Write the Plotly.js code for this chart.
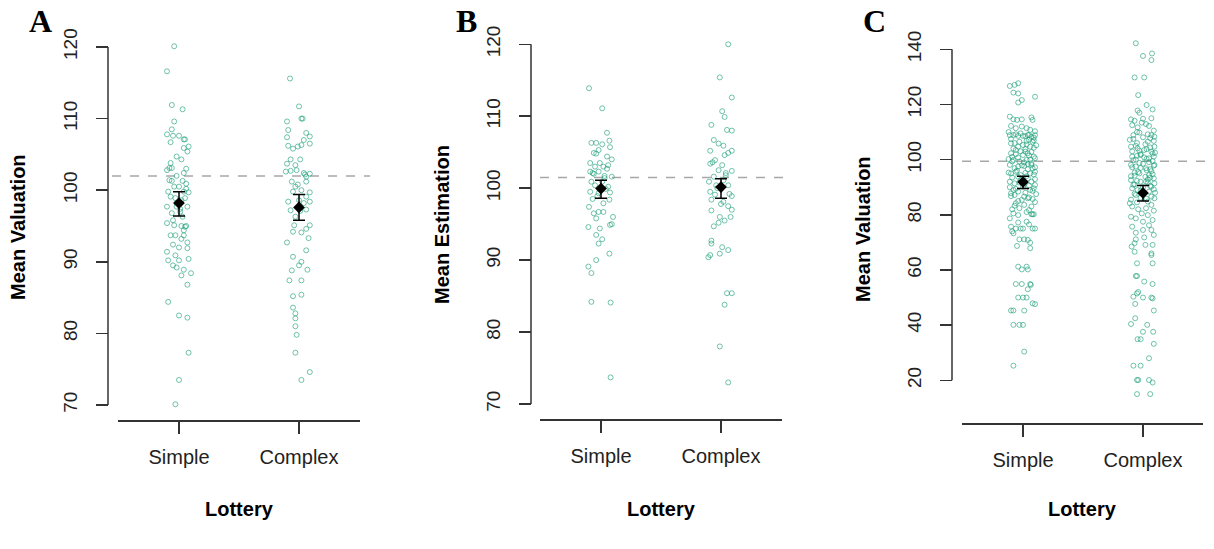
<!DOCTYPE html>
<html>
<head>
<meta charset="utf-8">
<script src="https://cdn.plot.ly/plotly-3.0.1.min.js"></script>
<style>html,body{margin:0;padding:0;background:#fff;}#chart{width:1214px;height:549px;}</style>
</head>
<body>
<div id="chart"></div>
<script>
// ---------------- DATA ----------------
const categories = ['Simple', 'Complex'];
const panelLetters = ['A', 'B', 'C'];
const yTitles = ['Mean Valuation', 'Mean Estimation', 'Mean Valuation'];
const xTitle = 'Lottery';

// Panel A – individual means (values) and horizontal jitter offsets
const aSimpleVal = [120.1,116.6,111.9,111.3,109.6,108.5,107.8,106.7,107.6,107.6,107.1,107.1,105.9,106.1,105.4,104.7,104.3,103.8,103.1,103.1,102.8,103.0,102.4,101.4,101.3,101.3,100.9,100.5,100.5,99.8,99.8,99.7,99.1,98.9,98.6,97.7,97.7,97.7,97.0,96.3,95.8,95.4,95.1,95.0,95.0,94.4,93.7,93.7,93.7,93.2,92.7,92.4,92.0,91.9,91.4,90.9,90.4,90.2,90.2,89.5,89.2,88.9,88.4,88.1,86.8,84.4,82.5,82.2,77.3,73.5,70.1,98.2,98.9,97.4,96.8,100.2,102.0,94.9];
const aSimpleJit = [-0.04,-0.10,-0.06,0.03,-0.04,-0.06,-0.10,-0.07,-0.05,0.00,0.04,0.05,0.04,0.08,0.07,-0.02,0.02,-0.07,-0.08,-0.06,-0.10,0.06,0.04,-0.08,-0.06,0.03,0.06,-0.04,0.00,-0.09,0.04,0.08,-0.07,-0.03,0.02,-0.10,-0.02,0.07,0.01,0.03,-0.05,-0.10,-0.04,0.02,0.06,0.04,-0.07,-0.03,0.04,0.02,0.07,-0.05,0.00,0.07,-0.10,-0.03,0.08,-0.09,0.00,-0.05,-0.02,0.04,0.10,0.02,0.07,-0.09,0.00,0.07,0.08,0.00,-0.03,-0.02,0.05,0.01,-0.06,0.06,-0.02,0.05];
const aComplexVal = [115.6,111.7,110.0,110.0,109.6,108.4,108.0,107.5,107.4,107.0,106.5,106.2,105.8,106.1,106.3,104.3,104.3,103.7,103.5,102.6,102.7,102.8,102.4,102.3,101.9,101.2,101.2,100.5,100.0,99.8,99.7,99.1,98.4,98.4,97.2,97.1,97.3,95.1,95.1,94.6,94.2,94.1,93.3,92.7,91.6,90.7,90.0,89.5,88.8,88.9,87.4,87.4,85.2,85.4,83.6,82.8,82.1,81.0,79.8,77.3,74.6,73.5,98.6,98.2,96.3,102.2,100.8];
const aComplexJit = [-0.075,0.00,0.03,0.02,-0.10,-0.09,0.06,0.09,-0.10,0.04,0.09,-0.09,-0.05,-0.01,0.02,-0.07,0.01,-0.10,-0.03,-0.11,-0.07,-0.02,0.04,0.09,0.06,-0.06,0.06,-0.03,0.02,-0.05,0.09,0.06,-0.09,0.09,-0.07,0.01,0.06,-0.04,0.09,0.06,-0.05,0.02,0.08,-0.10,0.06,-0.05,0.02,0.00,-0.06,0.07,-0.08,0.02,-0.05,0.02,-0.05,-0.03,-0.03,-0.03,-0.02,-0.03,0.09,0.02,0.00,0.04,-0.03,0.05,-0.01];

// Panel B
const bSimpleVal = [113.9,111.1,107.7,106.6,106.3,106.3,106.1,105.3,105.7,104.9,104.8,104.4,104.0,103.5,103.5,103.2,103.0,103.0,102.3,102.1,102.3,101.6,101.7,100.9,100.4,100.2,99.5,99.4,99.3,98.5,98.4,97.9,97.4,96.5,96.7,96.7,96.0,95.8,94.9,95.0,94.6,94.4,93.5,92.9,92.3,90.9,90.0,89.1,88.2,84.2,84.1,73.7,100.9,102.7,98.9,101.4,99.9,102.0];
const bSimpleJit = [-0.10,0.01,0.05,0.07,-0.08,-0.04,0.01,-0.02,0.075,-0.06,-0.04,0.05,0.09,-0.09,-0.01,0.06,-0.05,0.02,-0.09,-0.07,-0.02,0.09,0.03,-0.08,-0.05,0.06,-0.09,0.075,-0.02,-0.07,0.07,0.02,-0.10,-0.06,-0.02,0.02,0.10,-0.04,0.075,0.09,-0.105,-0.01,-0.04,0.01,-0.02,0.07,-0.04,-0.105,-0.08,-0.08,0.08,0.08,0.01,0.05,-0.03,0.03,0.04,-0.06];
const bComplexVal = [120.0,115.4,112.6,110.7,109.9,108.8,108.1,108.0,106.7,106.2,105.9,105.2,105.2,104.9,104.6,103.9,103.4,103.2,102.5,102.4,102.1,101.6,100.9,101.1,100.4,100.4,99.5,99.1,98.9,98.4,98.1,97.5,97.0,96.9,96.0,96.0,95.5,95.2,94.7,92.7,92.3,91.8,91.4,90.9,90.7,90.4,85.4,85.4,83.8,78.0,73.0,101.8,100.0,99.2,103.6,97.8];
const bComplexJit = [0.06,-0.01,0.09,0.01,0.03,-0.08,0.05,0.09,-0.06,-0.02,0.02,0.09,-0.09,0.06,0.03,-0.05,-0.09,0.01,-0.02,0.09,0.04,-0.06,-0.10,0.02,-0.04,0.06,-0.09,-0.05,0.09,-0.08,0.02,0.06,0.09,-0.08,-0.01,0.08,0.03,-0.02,-0.06,-0.08,-0.08,0.01,0.06,-0.01,-0.09,-0.105,0.05,0.09,0.03,-0.01,0.06,0.04,-0.03,0.07,-0.07,0.00];

// Panel C
const cSimpleVal = [126.7,127.7,127.1,124.3,124.0,121.6,120.7,122.8,115.6,114.6,114.4,114.6,115.3,114.4,112.2,111.4,112.0,111.4,110.8,110.0,110.3,108.9,108.9,108.6,108.6,108.9,108.3,108.9,109.2,108.5,109.0,107.5,107.0,106.5,106.8,105.9,104.7,105.3,104.7,106.5,105.2,104.0,103.8,102.3,102.0,101.7,102.3,101.1,103.0,102.8,101.0,99.9,99.3,99.9,98.7,100.5,100.2,99.0,98.1,97.5,97.7,98.1,96.9,97.2,96.5,95.0,95.6,95.0,95.6,94.4,94.0,95.3,92.0,91.4,92.0,90.8,92.6,91.0,93.2,93.5,89.0,88.4,89.0,89.6,90.0,88.0,90.2,87.2,85.4,86.0,85.7,86.8,87.5,86.6,84.2,83.6,83.0,82.4,81.7,82.0,80.5,79.9,80.2,80.2,80.2,81.0,78.7,77.2,77.5,76.5,75.7,75.0,75.0,75.0,75.0,75.0,74.0,73.3,71.1,71.1,70.9,69.9,68.7,67.9,61.2,61.2,60.2,60.2,54.9,54.9,54.9,54.6,53.0,50.0,50.0,50.0,47.9,47.6,45.3,45.3,45.3,40.1,40.1,40.1,30.4,25.3,109.5,108.0,107.2,106.0,105.5,104.3,103.5,102.9,101.5,100.8,100.0,99.4,98.4,97.9,96.8,96.0,95.2,94.6,93.8,92.9,92.3,91.7,90.6,89.4,88.7,87.8,86.3,85.0,84.6,83.3];
const cSimpleJit = [-0.11,-0.04,-0.07,-0.08,-0.04,-0.01,-0.04,0.10,-0.11,-0.08,-0.05,-0.01,0.07,0.08,-0.10,-0.06,-0.01,0.03,0.06,-0.12,0.10,-0.11,-0.08,-0.04,0.00,0.04,0.07,0.10,-0.06,0.02,0.05,-0.10,0.09,-0.03,0.03,-0.10,-0.04,0.00,0.06,0.08,0.11,-0.08,0.02,-0.10,-0.06,0.00,0.04,0.09,-0.02,0.07,-0.09,-0.08,-0.03,0.03,0.07,0.10,-0.12,0.01,-0.11,-0.04,0.01,0.07,-0.07,0.10,0.04,-0.10,-0.06,0.06,0.10,-0.02,0.03,-0.12,-0.11,-0.07,0.07,0.10,-0.02,0.01,0.04,-0.09,-0.08,-0.04,0.06,0.09,-0.11,0.02,0.00,-0.07,-0.01,0.04,0.08,-0.10,0.11,0.01,-0.06,0.01,0.07,-0.03,0.05,-0.09,-0.08,-0.04,0.07,0.08,0.09,0.03,-0.11,-0.04,0.03,0.05,-0.10,-0.06,0.00,0.10,0.08,-0.02,-0.09,-0.08,-0.03,0.01,0.04,0.06,-0.05,0.06,-0.04,0.03,-0.01,0.04,-0.06,-0.01,0.06,0.065,0.04,-0.04,0.00,0.03,0.08,0.10,-0.10,-0.08,0.01,-0.08,-0.03,0.00,0.01,-0.08,-0.02,0.09,0.05,-0.07,0.03,0.09,-0.06,0.02,0.05,-0.04,0.06,-0.09,0.04,-0.01,0.08,-0.05,0.02,0.09,-0.04,0.10,0.00,-0.03,0.05,-0.06,0.08,-0.10,0.05,-0.04,0.10,-0.07];
const cComplexVal = [142.2,137.6,138.5,136.1,129.8,129.8,123.4,119.8,118.2,117.8,117.0,115.0,114.6,114.1,113.4,112.9,112.2,112.5,111.7,114.8,110.5,108.9,109.8,108.9,108.3,108.1,107.2,106.5,107.8,106.0,104.7,104.1,103.5,102.9,104.7,103.0,102.5,103.8,102.0,101.1,101.7,100.5,101.1,100.0,100.3,99.5,98.1,97.5,96.9,98.1,97.0,96.5,98.5,95.3,95.0,94.4,93.2,94.0,93.8,95.8,92.6,92.0,92.0,91.4,91.0,90.5,92.8,89.6,89.0,88.4,89.2,90.0,87.2,86.6,86.0,85.5,86.2,84.8,84.2,83.0,83.6,82.4,82.0,81.5,79.3,78.7,79.9,78.1,80.5,77.5,75.7,74.5,74.5,72.7,76.2,73.5,71.1,71.8,69.7,68.5,69.1,69.1,66.0,65.4,66.6,62.4,62.4,57.8,57.8,55.8,54.9,51.5,50.3,50.0,50.0,49.7,52.0,47.7,45.3,42.5,40.4,40.1,37.6,37.6,34.9,34.9,33.2,28.0,25.3,25.3,20.1,20.1,20.1,19.2,15.0,15.0,110.0,109.2,107.5,106.8,105.6,105.0,104.4,103.2,102.2,101.4,100.8,99.8,99.1,98.8,97.8,97.2,96.2,95.5,94.7,94.2,93.5,92.3,91.7,90.9,90.2,88.8,88.0,87.6,85.8,84.5];
const cComplexJit = [-0.06,0.00,0.075,0.07,-0.07,0.01,-0.04,0.03,0.08,-0.045,-0.03,0.07,-0.10,-0.07,-0.01,0.025,0.05,-0.09,-0.045,0.00,0.09,-0.08,-0.03,0.07,0.095,0.00,-0.11,0.04,0.06,-0.05,-0.10,-0.045,0.01,0.07,0.095,-0.09,0.10,0.03,-0.02,-0.09,-0.02,0.05,0.09,-0.06,0.03,0.08,-0.10,-0.06,0.025,0.095,-0.02,0.06,0.00,-0.07,-0.03,0.05,0.09,-0.10,0.02,0.07,-0.10,-0.02,0.025,0.095,-0.07,0.06,0.04,-0.09,-0.045,0.05,0.09,0.00,-0.06,0.07,0.095,-0.10,-0.02,0.04,-0.11,-0.09,0.07,0.025,-0.04,0.09,-0.10,-0.06,0.04,0.08,-0.01,0.00,-0.09,0.00,0.07,0.09,0.05,-0.06,-0.06,0.01,-0.07,-0.095,0.02,0.08,0.07,0.07,-0.07,-0.05,0.08,-0.06,-0.05,0.01,0.08,-0.05,-0.08,0.00,0.07,0.08,-0.04,-0.065,0.09,-0.065,-0.10,0.035,0.00,0.085,-0.045,-0.02,0.09,0.05,-0.08,-0.02,-0.05,-0.04,0.05,0.08,-0.05,0.06,-0.05,0.04,-0.08,0.09,0.02,-0.06,0.06,-0.03,0.08,-0.05,0.01,-0.08,0.05,-0.03,0.09,-0.09,0.03,-0.04,0.08,-0.07,0.06,-0.05,0.04,-0.08,0.07,-0.02,0.10,-0.07,0.03,-0.05];

// Group means with error-bar limits
const aMeans = [98.2, 97.6];   const aUpper = [99.8, 99.4];   const aLower = [96.4, 95.8];
const bMeans = [99.95, 100.15]; const bUpper = [101.1, 101.3]; const bLower = [98.6, 98.6];
const cMeans = [91.9, 87.9];   const cUpper = [94.0, 90.6];   const cLower = [89.5, 85.0];

// Reference (dashed) lines
const refLines = [102.0, 101.5, 99.4];

// Y axis ticks
const abTicks = [70, 80, 90, 100, 110, 120];
const cTicks = [20, 40, 60, 80, 100, 120, 140];

// ---------------- LAYOUT HELPERS ----------------
const W = 1214, H = 549;
const px = v => v / W;
const py = v => 1 - v / H;

const pointColor = 'rgba(27,158,119,0.62)';
const axisColor = '#333333';
const tickFontColor = '#222222';

const panels = [
  {sv: aSimpleVal, sj: aSimpleJit, cv: aComplexVal, cj: aComplexJit, m: aMeans, u: aUpper, l: aLower,
   ticks: abTicks, pad: [2, 2], yTop: 47, yBot: 405, yAxisX: 108, xL: 118, xR: 360, xAxisY: 420,
   ref: refLines[0], refL: 112, refR: 370, letterX: 40, yTitleX: 18, yTitleY: 227, xTitleX: 239},
  {sv: bSimpleVal, sj: bSimpleJit, cv: bComplexVal, cj: bComplexJit, m: bMeans, u: bUpper, l: bLower,
   ticks: abTicks, pad: [2, 2], yTop: 44.3, yBot: 404, yAxisX: 531, xL: 540, xR: 782, xAxisY: 419,
   ref: refLines[1], refL: 540, refR: 792, letterX: 466, yTitleX: 442, yTitleY: 225, xTitleX: 661},
  {sv: cSimpleVal, sj: cSimpleJit, cv: cComplexVal, cj: cComplexJit, m: cMeans, u: cUpper, l: cLower,
   ticks: cTicks, pad: [8, 5], yTop: 49.3, yBot: 380.3, yAxisX: 952, xL: 962, xR: 1203, xAxisY: 423.3,
   ref: refLines[2], refL: 962, refR: 1214, letterX: 874, yTitleX: 863, yTitleY: 229, xTitleX: 1082}
];

const data = [];
const layout = {
  width: W, height: H,
  margin: {l: 0, r: 0, t: 0, b: 0},
  paper_bgcolor: '#ffffff', plot_bgcolor: 'rgba(0,0,0,0)',
  showlegend: false,
  font: {family: 'Liberation Sans, Arial, sans-serif', color: tickFontColor},
  shapes: [], annotations: []
};

panels.forEach((p, i) => {
  const sfx = i === 0 ? '' : String(i + 1);
  const xa = 'x' + sfx, ya = 'y' + sfx;
  const tickStep = 120; // px between category ticks
  const xRange = [-(61 / tickStep), 1 + (p.xR - p.xL - 61 - tickStep) / tickStep];

  // y range padded beyond the tick span so edge points stay visible
  const tMin = p.ticks[0], tMax = p.ticks[p.ticks.length - 1];
  const unit = (p.yBot - p.yTop) / (tMax - tMin);
  const lo = tMin - p.pad[0], hi = tMax + p.pad[1];
  const domTopPx = p.yTop - p.pad[1] * unit, domBotPx = p.yBot + p.pad[0] * unit;

  [[p.sv, p.sj, 0], [p.cv, p.cj, 1]].forEach(([vals, jit, idx]) => {
    data.push({
      type: 'scatter', mode: 'markers', xaxis: xa, yaxis: ya, cliponaxis: false,
      x: vals.map((v, k) => idx + jit[k]), y: vals,
      marker: {symbol: 'circle-open', size: 5, color: pointColor, line: {width: 1, color: pointColor}},
      hoverinfo: 'skip'
    });
  });
  data.push({
    type: 'scatter', mode: 'markers', xaxis: xa, yaxis: ya, cliponaxis: false,
    x: [0, 1], y: p.m,
    marker: {symbol: 'diamond', size: 9, color: '#000000'},
    error_y: {type: 'data', symmetric: false,
      array: p.u.map((u, k) => u - p.m[k]), arrayminus: p.m.map((m, k) => m - p.l[k]),
      color: '#000000', thickness: 1.5, width: 6}
  });

  layout['xaxis' + sfx] = {
    domain: [px(p.xL), px(p.xR)], range: xRange, anchor: 'free', position: py(p.xAxisY),
    showgrid: false, zeroline: false, showline: true, linecolor: axisColor, linewidth: 1.5,
    ticks: 'outside', ticklen: 12, tickwidth: 1.5, tickcolor: axisColor,
    tickvals: [0, 1], ticktext: categories, ticklabelstandoff: 6,
    tickfont: {size: 20, color: tickFontColor, family: 'Liberation Sans, Arial, sans-serif'},
    fixedrange: true
  };
  layout['yaxis' + sfx] = {
    domain: [py(domBotPx), py(domTopPx)], range: [lo, hi], anchor: 'free', position: px(p.yAxisX),
    showgrid: false, zeroline: false, showline: false,
    ticks: 'outside', ticklen: 12, tickwidth: 1.5, tickcolor: axisColor,
    tickvals: p.ticks, tickangle: -90, ticklabelstandoff: 11,
    tickfont: {size: 19, color: tickFontColor, family: 'Liberation Sans, Arial, sans-serif'},
    fixedrange: true
  };

  // y axis line spanning only the tick range (R style)
  layout.shapes.push({
    type: 'line', xref: 'paper', yref: ya, x0: px(p.yAxisX), x1: px(p.yAxisX), y0: tMin, y1: tMax,
    line: {color: axisColor, width: 1.5}
  });
  layout.shapes.push({
    type: 'line', xref: 'paper', yref: ya, x0: px(p.refL), x1: px(p.refR), y0: p.ref, y1: p.ref,
    line: {color: '#a8a8a8', width: 1.5, dash: 'dash'}, layer: 'below'
  });

  layout.annotations.push(
    {text: '<b>' + panelLetters[i] + '</b>', xref: 'paper', yref: 'paper', x: px(p.letterX), y: py(21),
     xanchor: 'center', yanchor: 'middle', showarrow: false,
     font: {family: 'Liberation Serif, Times New Roman, serif', size: 32, color: '#000'}},
    {text: '<b>' + yTitles[i] + '</b>', xref: 'paper', yref: 'paper', x: px(p.yTitleX), y: py(p.yTitleY),
     xanchor: 'center', yanchor: 'middle', textangle: -90, showarrow: false,
     font: {family: 'Liberation Sans, Arial, sans-serif', size: 20, color: '#000'}},
    {text: '<b>' + xTitle + '</b>', xref: 'paper', yref: 'paper', x: px(p.xTitleX), y: py(509),
     xanchor: 'center', yanchor: 'middle', showarrow: false,
     font: {family: 'Liberation Sans, Arial, sans-serif', size: 20, color: '#000'}}
  );
});

Plotly.newPlot('chart', data, layout, {displayModeBar: false, staticPlot: true});
</script>
</body>
</html>
